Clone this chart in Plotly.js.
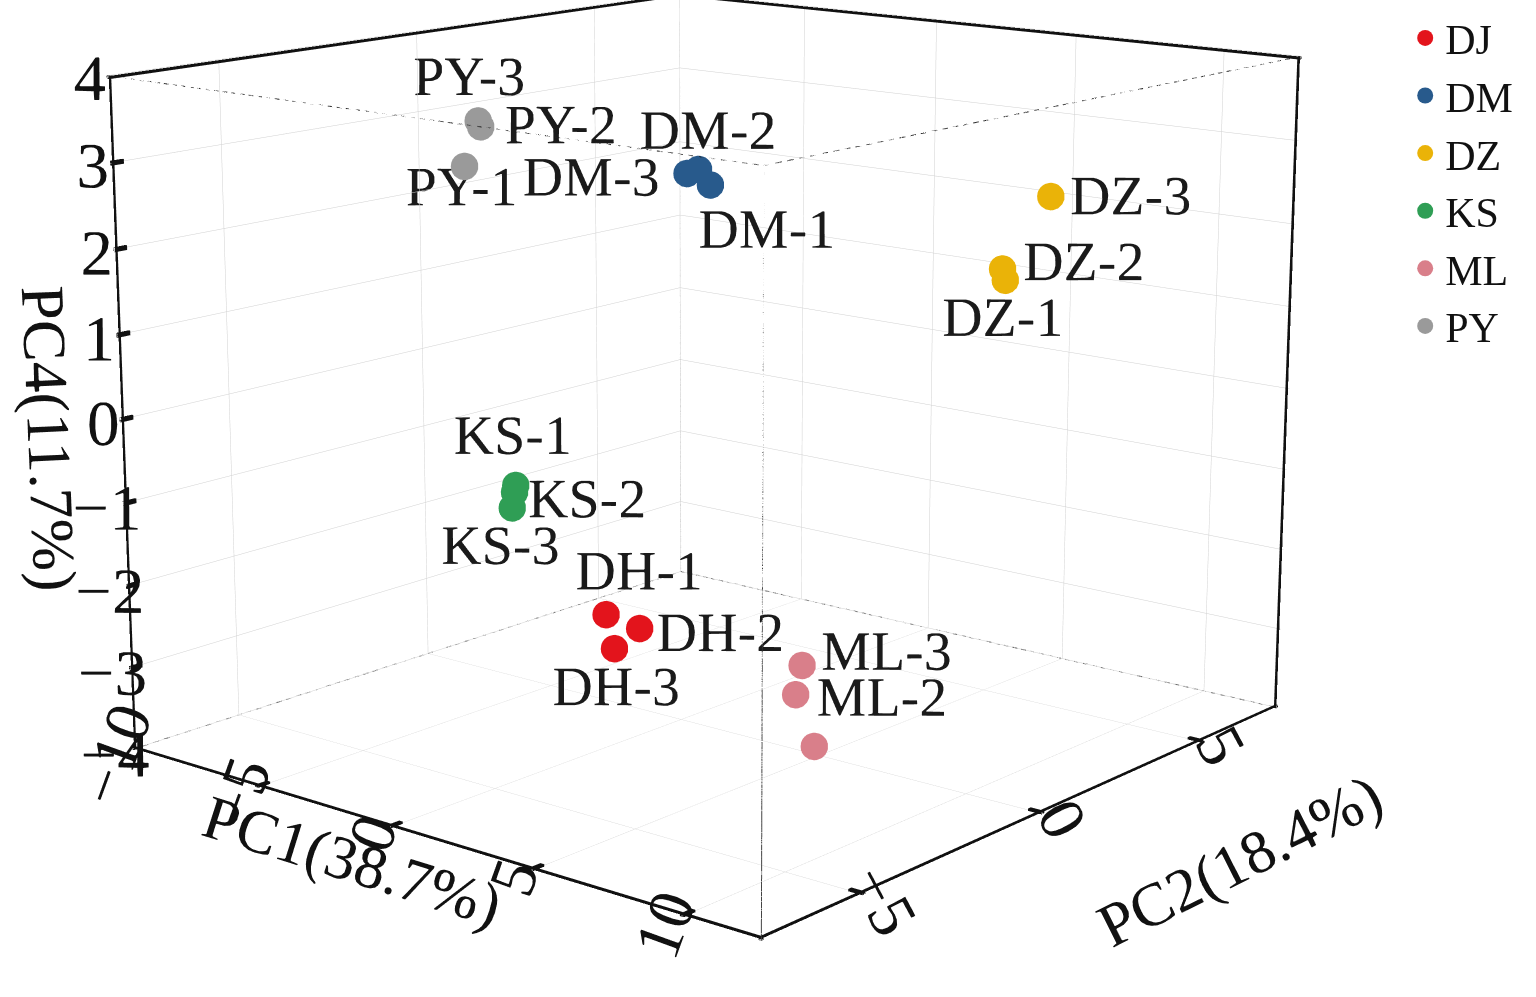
<!DOCTYPE html>
<html><head><meta charset="utf-8">
<script src="https://cdn.plot.ly/plotly-3.0.1.min.js"></script>
<style>
html,body{margin:0;padding:0;overflow:hidden;width:1536px;height:997px;background:#fff}
#wrap{position:absolute;left:0;top:0;width:1536px;height:997px;overflow:hidden}
#plot{position:absolute;left:-135px;top:-1134px;width:1700px;height:3076px}
</style>
</head><body><div id="wrap"><div id="plot"></div></div>
<script>
const groupNames = ['DJ','DM','DZ','KS','ML','PY'];
const groupColors = ['#e3141c','#285a8c','#eab308','#2f9e55','#d97f8a','#9a9a9a'];

const djLabels = ['DH-1','DH-2','DH-3'];
const djPC1 = [0.18, 1.4, 0.48];
const djPC2 = [-2.2, -2.2, -2.2];
const djPC4 = [-2.33, -2.40, -2.72];

const dmLabels = ['DM-1','DM-2','DM-3'];
const dmPC1 = [-1.51, -1.95, -2.38];
const dmPC2 = [2.0, 2.0, 2.0];
const dmPC4 = [2.31, 2.48, 2.41];

const dzLabels = ['DZ-1','DZ-2','DZ-3'];
const dzPC1 = [6.7, 6.6, 8.0];
const dzPC2 = [3.9, 3.9, 4.06];
const dzPC4 = [1.39, 1.52, 2.44];

const ksLabels = ['KS-1','KS-2','KS-3'];
const ksPC1 = [-6.61, -6.66, -6.76];
const ksPC2 = [0.2, 0.2, 0.2];
const ksPC4 = [-1.56, -1.65, -1.86];

const mlLabels = ['ML-1','ML-2','ML-3'];
const mlPC1 = [10.9, 10.3, 10.5];
const mlPC2 = [-5.0, -5.0, -5.0];
const mlPC4 = [-2.50, -1.98, -1.64];

const pyLabels = ['PY-1','PY-2','PY-3'];
const pyPC1 = [-9.66, -8.98, -9.08];
const pyPC2 = [1.0, 1.0, 1.0];
const pyPC4 = [2.25, 2.78, 2.85];

const xRange = [-10, 12.5];
const yRange = [-7.6, 7.6];
const zRange = [-4, 4];
const xTicks = [-10, -5, 0, 5, 10];
const yTicks = [-5, 0, 5];
const zTicks = [-4, -3, -2, -1, 0, 1, 2, 3, 4];
const axisTitles = ['PC1(38.7%)', 'PC2(18.4%)', 'PC4(11.7%)'];

// label offsets from each point, in screen pixels [right, down]
const djOff = [[36,-50],[88,5],[1,45]];
const dmOff = [[64,52],[10,-45],[-111,5]];
const dzOff = [[-3,43],[90,-8],[88,0]];
const ksOff = [[-4,-60],[85,9],[-15,47]];
const mlOff = [[86,-3],[86,3],[84,-14]];
const pyOff = [[-5,25],[94,-2],[-10,-52]];

const FONT = 'Liberation Serif';
const ASPECT = {x: 1.135, y: 1.19, z: 0.95};
const EYE = {x: 3.227, y: -3.883, z: 1.186};
const PX_PER_UNIT = 800;

const X0 = xRange[0], X1 = xRange[1], Y0 = yRange[0], Y1 = yRange[1], Z0 = zRange[0], Z1 = zRange[1];
const span = [X1 - X0, Y1 - Y0, Z1 - Z0];
const asp = [ASPECT.x, ASPECT.y, ASPECT.z];
const toData = (d, a) => a * span[d] / asp[d];
const hn = Math.hypot(EYE.x, EYE.y);
const rightVec = [-EYE.y / hn, EYE.x / hn, 0];

const sets = [
  [djLabels, djPC1, djPC2, djPC4, djOff],
  [dmLabels, dmPC1, dmPC2, dmPC4, dmOff],
  [dzLabels, dzPC1, dzPC2, dzPC4, dzOff],
  [ksLabels, ksPC1, ksPC2, ksPC4, ksOff],
  [mlLabels, mlPC1, mlPC2, mlPC4, mlOff],
  [pyLabels, pyPC1, pyPC2, pyPC4, pyOff]
];

const traces = [];
sets.forEach((s, i) => {
  traces.push({
    type: 'scatter3d', mode: 'markers', name: groupNames[i],
    x: s[1], y: s[2], z: s[3],
    marker: {size: 16, color: groupColors[i], opacity: 1},
    hoverinfo: 'skip'
  });
});
sets.forEach((s, i) => {
  const off = s[4];
  traces.push({
    type: 'scatter3d', mode: 'text', showlegend: false, hoverinfo: 'skip',
    x: s[1].map((v, k) => v + toData(0, rightVec[0] * off[k][0] / PX_PER_UNIT)),
    y: s[2].map((v, k) => v + toData(1, rightVec[1] * off[k][0] / PX_PER_UNIT)),
    z: s[3].map((v, k) => v + toData(2, -off[k][1] / PX_PER_UNIT)),
    text: s[0], textposition: 'middle center',
    textfont: {family: FONT, size: 56, color: '#1a1a1a'}
  });
});

// ---- frame and tick marks, built from the axis ranges ----
function prisms(edges, t) {
  const m = {x: [], y: [], z: [], i: [], j: [], k: []};
  edges.forEach(([a, b]) => {
    let ax = 0; for (let d = 0; d < 3; d++) if (a[d] !== b[d]) ax = d;
    const o = [0, 1, 2].filter(d => d !== ax);
    const du = toData(o[0], t), dv = toData(o[1], t);
    const base = m.x.length;
    [a, b].forEach(p => {
      [[-1,-1],[1,-1],[1,1],[-1,1]].forEach(([su, sv]) => {
        const q = p.slice(); q[o[0]] += su * du; q[o[1]] += sv * dv;
        m.x.push(q[0]); m.y.push(q[1]); m.z.push(q[2]);
      });
    });
    [[0,1,2],[0,2,3],[4,5,6],[4,6,7],[0,1,5],[0,5,4],[1,2,6],[1,6,5],[2,3,7],[2,7,6],[3,0,4],[3,4,7]]
      .forEach(tr => { m.i.push(base + tr[0]); m.j.push(base + tr[1]); m.k.push(base + tr[2]); });
  });
  return {type: 'mesh3d', x: m.x, y: m.y, z: m.z, i: m.i, j: m.j, k: m.k,
    color: '#111111', flatshading: true, showscale: false, hoverinfo: 'skip', showlegend: false,
    lighting: {ambient: 1, diffuse: 0, specular: 0, fresnel: 0, roughness: 1}};
}
const TL = 0.022;
const frameEdges = [
  [[X0,Y0,Z0],[X0,Y0,Z1]], [[X0,Y0,Z0],[X1,Y0,Z0]], [[X1,Y0,Z0],[X1,Y1,Z0]],
  [[X1,Y1,Z0],[X1,Y1,Z1]], [[X1,Y1,Z1],[X0,Y1,Z1]], [[X0,Y1,Z1],[X0,Y0,Z1]]
];
const tickEdges = [].concat(
  xTicks.filter(v => v > X0).map(v => [[v, Y0, Z0], [v, Y0 + toData(1, TL), Z0]]),
  yTicks.map(v => [[X1, v, Z0], [X1 - toData(0, TL), v, Z0]]),
  zTicks.filter(v => v > Z0 && v < Z1).map(v => [[X0, Y0, v], [X0, Y0 + toData(1, TL), v]])
);
traces.push(prisms(frameEdges, 0.0042));
traces.push(prisms(tickEdges, 0.0032));

function line(pts, color, width) {
  return {type: 'scatter3d', mode: 'lines', showlegend: false, hoverinfo: 'skip',
    x: pts.map(p => p[0]), y: pts.map(p => p[1]), z: pts.map(p => p[2]),
    line: {color: color, width: width}, connectgaps: false};
}
function dashed(a, b, n) {
  const pts = [];
  for (let s = 0; s < n; s++) {
    const f0 = s / n, f1 = (s + 0.55) / n;
    pts.push(a.map((v, d) => v + (b[d] - v) * f0));
    pts.push(a.map((v, d) => v + (b[d] - v) * f1));
    pts.push([null, null, null]);
  }
  return pts;
}
traces.push(line([[X1,Y0,Z0],[X1,Y0,Z1]], '#444', 2));
traces.push(line([[X0,Y1,Z0],[X0,Y1,Z1]], '#c8c8c8', 1.5));
traces.push(line(dashed([X0,Y0,Z1],[X1,Y0,Z1],70).concat(dashed([X1,Y0,Z1],[X1,Y1,Z1],55)), '#222', 2));
traces.push(line(dashed([X0,Y0,Z0],[X0,Y1,Z0],60).concat(dashed([X0,Y1,Z0],[X1,Y1,Z0],70)), '#666', 2));

const fmt = t => (t < 0 ? '\u2212' + Math.abs(t) : String(t));
function axis(range, ticks, title, angle) {
  return {
    range: range, autorange: false, tickmode: 'array', tickvals: ticks, ticktext: ticks.map(fmt),
    showbackground: false, showgrid: true, gridcolor: '#d0d0d0', gridwidth: 1,
    zeroline: false, showline: false, showspikes: false, ticks: '',
    tickangle: angle,
    tickfont: {family: FONT, size: 28, color: '#111'},
    title: {text: title, font: {family: FONT, size: 62, color: '#111'}}
  };
}

const layout = {
  width: 1700, height: 3076,
  margin: {l: 0, r: 0, t: 0, b: 0},
  paper_bgcolor: '#fff',
  showlegend: true,
  hovermode: false,
  legend: {x: 0.906, y: 0.630, xanchor: 'left', yanchor: 'top',
           font: {family: FONT, size: 42, color: '#111'}, bgcolor: 'rgba(0,0,0,0)'},
  scene: {
    domain: {x: [0, 1], y: [0, 1]},
    xaxis: axis(xRange, xTicks, axisTitles[0], -70),
    yaxis: axis(yRange, yTicks, axisTitles[1], 62),
    zaxis: axis(zRange, zTicks, axisTitles[2], 0),
    aspectmode: 'manual',
    aspectratio: ASPECT,
    camera: {eye: EYE, center: {x: 0, y: 0, z: 0}, up: {x: 0, y: 0, z: 1}}
  }
};

// distance of the axis titles from their axes
const TITLE_PAD = [165, 62, 57];

Plotly.newPlot('plot', traces, layout, {displayModeBar: false}).then(gd => {
  try {
    const sc = gd._fullLayout.scene._scene;
    if (sc.axesOptions) sc.axesOptions.labelPad = TITLE_PAD.slice();
    const ax = sc.glplot && sc.glplot.axes;
    if (ax) { ax.labelPad = TITLE_PAD.slice(); }
    if (sc.glplot && sc.glplot.redraw) sc.glplot.redraw();
  } catch (e) {}
});
</script>
</body></html>
